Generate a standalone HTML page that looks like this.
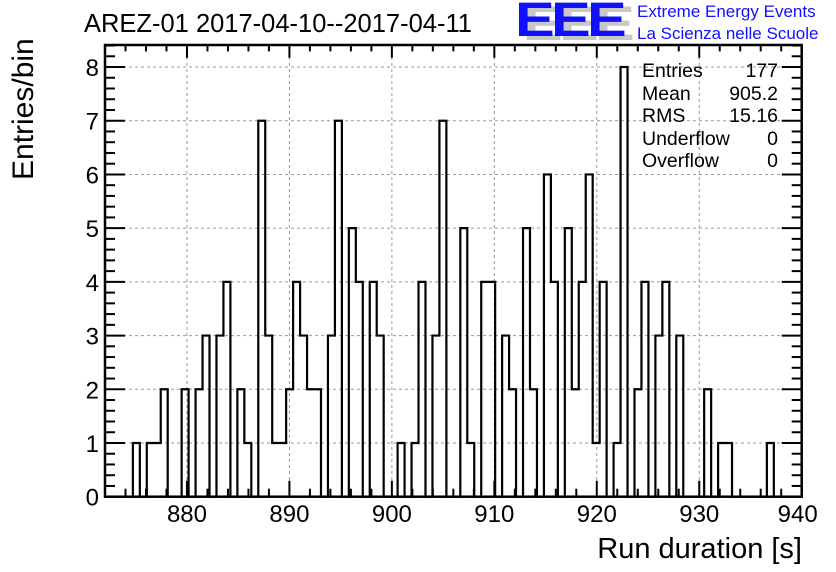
<!DOCTYPE html>
<html><head><meta charset="utf-8"><style>
html,body{margin:0;padding:0;background:#fff;}
svg{display:block;font-family:"Liberation Sans",Arial,sans-serif;}
</style></head><body>
<svg id="chart" width="836" height="572" viewBox="0 0 836 572">
<g id="grid"></g>
<g id="hist"></g>
<g id="axes"></g>
<text x="84" y="32" font-size="25.5">AREZ-01 2017-04-10--2017-04-11</text>
<g>
<text x="523" y="40" font-size="48" font-weight="bold" fill="#c8c8c8" letter-spacing="-3" textLength="108" lengthAdjust="spacingAndGlyphs">EEE</text>
<text x="515" y="36" font-size="48" font-weight="bold" fill="#1010ff" letter-spacing="-3" textLength="108" lengthAdjust="spacingAndGlyphs">EEE</text>
<text x="637" y="17" font-size="17" fill="#1010ff">Extreme Energy Events</text>
<text x="637" y="39" font-size="17" fill="#1010ff">La Scienza nelle Scuole</text>
</g>
<g font-size="19.5">
<text x="642" y="77">Entries</text><text x="778" y="77" text-anchor="end">177</text>
<text x="642" y="100">Mean</text><text x="778" y="100" text-anchor="end">905.2</text>
<text x="642" y="122">RMS</text><text x="778" y="122" text-anchor="end">15.16</text>
<text x="642" y="145">Underflow</text><text x="778" y="145" text-anchor="end">0</text>
<text x="642" y="167">Overflow</text><text x="778" y="167" text-anchor="end">0</text>
</g>
<text x="802" y="558" font-size="29" text-anchor="end">Run duration [s]</text>
<text transform="translate(33,180) rotate(-90)" font-size="30">Entries/bin</text>
</svg>
<script>
const xMin = 872, xMax = 940, nBins = 100;
const yMax = 8.41;
const counts = [0,0,0,0,1,0,1,1,2,0,0,2,0,2,3,0,3,4,0,2,1,0,7,3,1,1,2,4,3,2,2,0,3,7,0,5,4,0,4,3,0,0,1,0,1,4,0,3,7,0,0,5,1,0,4,4,0,3,2,0,5,2,0,6,4,0,5,2,4,6,1,4,0,1,8,0,2,4,0,3,4,0,3,0,0,0,2,0,1,1,0,0,0,0,0,1,0,0,0,0];
const xTicks = [880,890,900,910,920,930,940];
const yTicks = [0,1,2,3,4,5,6,7,8];
const L=105,R=801.7,T=45,B=496.7;
const sx=v=>L+(v-xMin)/(xMax-xMin)*(R-L);
const sy=v=>B-v/yMax*(B-T);
const NS='http://www.w3.org/2000/svg';
function mk(tag,attrs,parent){const e=document.createElementNS(NS,tag);for(const k in attrs)e.setAttribute(k,attrs[k]);parent.appendChild(e);return e;}
const grid=document.getElementById('grid'),hist=document.getElementById('hist'),axes=document.getElementById('axes');
xTicks.forEach(t=>{if(t<xMax){const g=mk('line',{x1:sx(t),x2:sx(t),y1:T,y2:B,stroke:'#999','stroke-dasharray':'3,3','stroke-width':1},grid);}});
yTicks.forEach(t=>{if(t>0){const g=mk('line',{x1:L,x2:R,y1:sy(t),y2:sy(t),stroke:'#999','stroke-dasharray':'3,3','stroke-width':1},grid);}});
const bw=(xMax-xMin)/nBins;
let d='M'+sx(xMin)+','+sy(0);
counts.forEach((c,i)=>{const x0=sx(xMin+i*bw),x1=sx(xMin+(i+1)*bw);d+=' L'+x0+','+sy(c)+' L'+x1+','+sy(c);});
d+=' L'+sx(xMax)+','+sy(0);
const p=mk('path',{d:d,fill:'none',stroke:'#000','stroke-width':2.2},hist);


const fr=mk('rect',{x:L,y:T,width:R-L,height:B-T,fill:'none',stroke:'#000','stroke-width':2.5},axes);


for(let v=872;v<=940;v+=2){const maj=v%10===0;const len=maj?16:8;
mk('line',{x1:sx(v),x2:sx(v),y1:B,y2:B-len,stroke:'#000','stroke-width':2},axes);
mk('line',{x1:sx(v),x2:sx(v),y1:T,y2:T+len*0.8,stroke:'#000','stroke-width':2},axes);}
for(let k=0;k<=42;k++){const v=k*0.2;const maj=k%5===0;const len=maj?20:10;
mk('line',{x1:L,x2:L+len,y1:sy(v),y2:sy(v),stroke:'#000','stroke-width':2},axes);
mk('line',{x1:R,x2:R-len,y1:sy(v),y2:sy(v),stroke:'#000','stroke-width':2},axes);}
xTicks.forEach(t=>{const e=mk('text',{x:sx(t)-(t===940?4:0),y:522,'font-size':24,'text-anchor':'middle'},axes);e.textContent=t;});
yTicks.forEach(t=>{const e=mk('text',{x:99,y:sy(t)+9,'font-size':24,'text-anchor':'end'},axes);e.textContent=t;});
</script>
</body></html>
